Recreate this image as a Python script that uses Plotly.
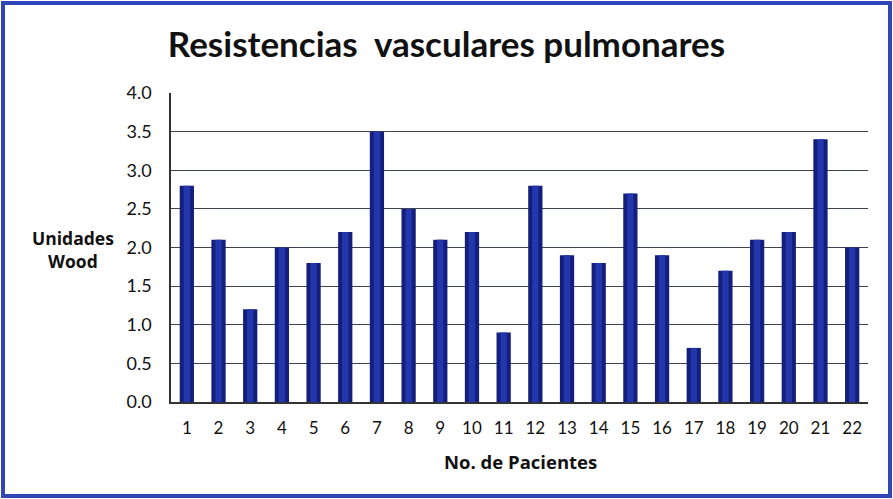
import plotly.graph_objects as go

pacientes = [str(i) for i in range(1, 23)]
valores = [2.8, 2.1, 1.2, 2.0, 1.8, 2.2, 3.5, 2.5, 2.1, 2.2, 0.9,
           2.8, 1.9, 1.8, 2.7, 1.9, 0.7, 1.7, 2.1, 2.2, 3.4, 2.0]
y_ticks = [0.0, 0.5, 1.0, 1.5, 2.0, 2.5, 3.0, 3.5, 4.0]

titulo = "Resistencias  vasculares pulmonares"
titulo_y = "Unidades<br>Wood"
titulo_x = "No. de Pacientes"

W, H = 893, 499
L, R, T, B = 171, 25, 93, 97
pw, ph = W - L - R, H - T - B

def px(x):
    return (x - L) / pw

def py(y):
    return (H - B - y) / ph

FONT = "Lato"

fig = go.Figure()
fig.add_trace(go.Bar(x=pacientes, y=valores, width=0.45,
                     marker=dict(color="#141f7c", line=dict(width=0)),
                     hoverinfo="x+y"))
fig.add_trace(go.Bar(x=pacientes, y=valores, width=0.2,
                     marker=dict(color="#2336ac", line=dict(width=0)),
                     hoverinfo="skip"))

fig.update_layout(
    width=W, height=H,
    margin=dict(l=L, r=R, t=T, b=B),
    paper_bgcolor="white", plot_bgcolor="white",
    barmode="overlay", showlegend=False,
    title=dict(text=titulo, x=0.5, xref="container", xanchor="center",
               y=1 - 45 / H, yref="container", yanchor="middle",
               font=dict(family=FONT, size=35, color="#111111", weight="bold")),
    font=dict(family=FONT, color="#111111"),
    xaxis=dict(type="category", showgrid=False, showline=True,
               linecolor="#333333", linewidth=1.5,
               tickfont=dict(size=17, family=FONT, color="#111111"),
               ticklabelstandoff=10, range=[-0.5, 21.5]),
    yaxis=dict(range=[0, 4.0], tickvals=y_ticks, tickformat=".1f",
               showgrid=True, gridcolor="#3e4350", gridwidth=1.2,
               showline=True, linecolor="#333333", linewidth=1.5,
               zeroline=False,
               tickfont=dict(size=18, family=FONT, color="#111111"),
               ticklabelstandoff=14),
    shapes=[dict(type="rect", xref="paper", yref="paper",
                 x0=px(3), x1=px(890), y0=py(3), y1=py(496),
                 line=dict(color="#3046b8", width=4), layer="above")],
    annotations=[
        dict(text=titulo_y, xref="paper", yref="paper", x=px(73), y=py(249),
             showarrow=False, xanchor="center", yanchor="middle",
             font=dict(family="Open Sans", size=17.5, color="#111111", weight="bold")),
        dict(text=titulo_x, xref="paper", yref="paper", x=px(520), y=py(461),
             showarrow=False, xanchor="center", yanchor="middle",
             font=dict(family="Open Sans", size=18.5, color="#111111", weight="bold")),
    ],
)

fig.write_html("out.html", config={"displayModeBar": False},
               post_script="document.body.style.margin='0';document.body.style.overflow='hidden';")
